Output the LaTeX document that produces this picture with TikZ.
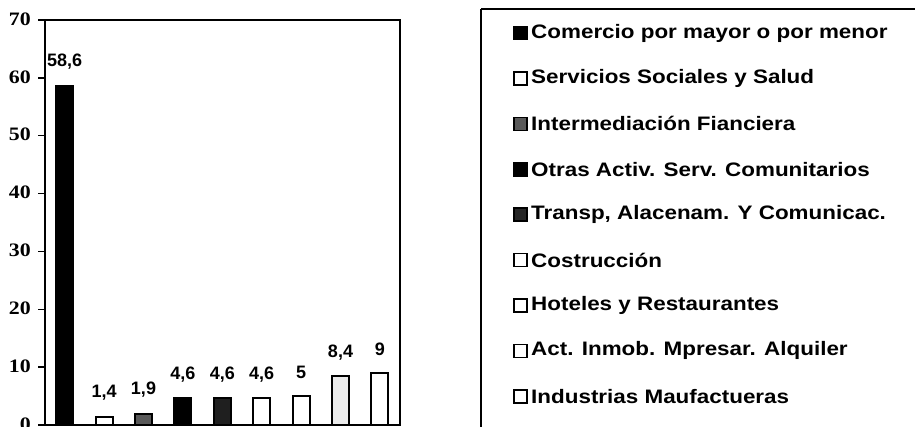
\documentclass[tikz,border=0pt]{standalone}
\usepackage{fontspec}
\setmainfont{Liberation Sans}
\newfontfamily\serifbold[FakeStretch=1.15]{Liberation Serif}
\newfontfamily\legfont[FakeStretch=1.15]{Liberation Sans}
\begin{document}
\begin{tikzpicture}[x=1pt,y=-1pt,
  frame/.style={line width=2.2pt},
  bar/.style={draw=black,line width=2pt},
  val/.style={font=\fontsize{18}{18}\selectfont\bfseries,inner sep=0pt},
  tick/.style={font=\fontsize{19}{19}\serifbold\bfseries,anchor=east,inner sep=0pt},
  legsym/.style={draw=black,line width=1.6pt,minimum size=13pt,inner sep=0pt},
  legtxt/.style={font=\fontsize{19.5}{19.5}\legfont\bfseries,anchor=west,inner sep=0pt}]
\useasboundingbox (0,0) rectangle (915,426);
% plot frame
\draw[frame] (45,20) rectangle (400,425);
% ticks and labels
\foreach \v in {0,10,...,70}{
  \pgfmathsetmacro{\yy}{425-5.786*\v}
  \draw[line width=1.4pt] (38,\yy) -- (45,\yy);
  \node[tick] (t\v) at (31,\yy-1) {\v};
}
% bars
\foreach \i/\v/\lab/\fc in {0/58.6/{58,6}/black,1/1.4/{1,4}/white,2/1.9/{1,9}/black!65,3/4.6/{4,6}/black,4/4.6/{4,6}/black!88,5/4.6/{4,6}/white,6/5/{5}/white,7/8.4/{8,4}/black!8,8/9/{9}/white}{
  \pgfmathsetmacro{\cx}{64.7+39.4*\i}
  \pgfmathsetmacro{\yt}{425-5.786*\v}
  \pgfmathsetmacro{\yl}{\yt-24}
  \draw[bar,fill=\fc] (\cx-8.5,425) rectangle (\cx+8.5,\yt);
  \node[val] (v\i) at (\cx,\yl) {\lab};
}
% legend box
\draw[frame] (481,9) -- (940,9);
\draw[frame] (481,9) -- (481,440);
% legend entries
\foreach \j/\fc/\txt in {0/black/{Comercio por mayor o por menor},1/white/{Servicios Sociales y Salud},2/black!65/{Intermediación Fianciera},3/black/{Otras Activ. Serv. Comunitarios},4/black!85/{Transp, Alacenam. Y Comunicac.},5/white/{Costrucción},6/white/{Hoteles y Restaurantes},7/white/{Act. Inmob. Mpresar. Alquiler},8/white/{Industrias Maufactueras}}{
  \pgfmathsetmacro{\ly}{33+45.4*\j}
  \node[legsym,fill=\fc] (s\j) at (520.5,\ly) {};
  \node[legtxt] (l\j) at (531,\ly) {\txt};
}
\end{tikzpicture}
\end{document}
